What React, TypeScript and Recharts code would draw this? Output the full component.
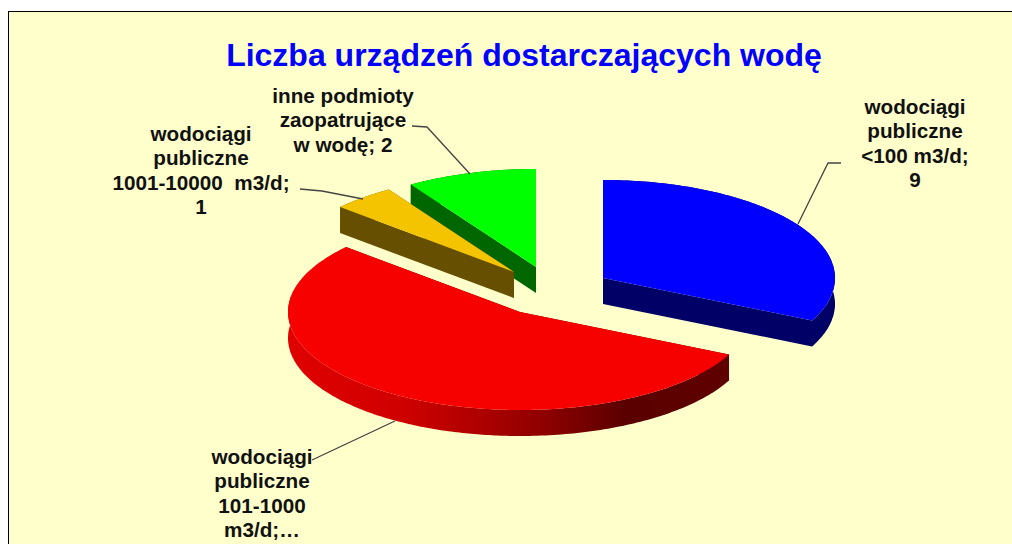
import { PieChart, Pie } from 'recharts'

const categories = [
  'wodociągi publiczne <100 m3/d',
  'wodociągi publiczne 101-1000 m3/d',
  'wodociągi publiczne 1001-10000 m3/d',
  'inne podmioty zaopatrujące w wodę',
]
const values = [9, 16, 1, 2]

const topColors = ['#0000FF', '#F70000', '#F5C400', '#00FF00']
const wallColors = ['#000066', '#600000', '#665000', '#006600']
const rimColors = ['#000066', 'url(#redRim)', '#665000', '#006600']

// exploded slices: how far each apex sits from the pie centre
const shifts = [
  [73, -7],
  [-10, 27],
  [-16, -13],
  [6, -18],
]

const labelLines = [
  ['wodociągi', 'publiczne', '<100 m3/d;', '9'],
  ['wodociągi', 'publiczne', '101-1000', 'm3/d;…'],
  ['wodociągi', 'publiczne', '1001-10000\u00a0 m3/d;', '1'],
  ['inne podmioty', 'zaopatrujące', 'w wodę; 2'],
]
const labelPos = [
  [915, 114],
  [262, 464],
  [201, 141],
  [343, 103],
]
const leaders = [
  '798,224 828,163 841,163',
  '395,421 312,460',
  '363,199 322,191 300,189',
  '470,174 427,127 412,126',
]

// drawn back to front: the orange tip lies over the green wall, so the table is reversed
const data = categories.map((name, i) => ({ name, value: values[i] })).reverse()
const sliceIndex = (i: number) => values.length - 1 - i

const SQUASH = 98 / 232
const DEPTH = 26

// the source's perspective opens up the upper left of the pie a bit
function warp(compass: number) {
  if (compass <= 180) return compass
  return compass + 16 * Math.sin((compass * Math.PI) / 180)
}

function Slice3D(props: any) {
  const { cx, cy, outerRadius, startAngle, endAngle } = props
  const index = sliceIndex(props.index)
  const [dx, dy] = shifts[index]
  const ax = cx + dx
  const ay = cy + dy

  const point = (compass: number, drop = 0) => {
    const rad = (warp(compass) * Math.PI) / 180
    const x = ax + outerRadius * Math.sin(rad)
    const y = ay - outerRadius * SQUASH * Math.cos(rad) + drop
    return `${x.toFixed(1)},${y.toFixed(1)}`
  }

  // the pie runs counter-clockwise from 90 to 450, read it back as clockwise from the top
  const from = 450 - endAngle
  const to = 450 - startAngle
  const arc: number[] = []
  for (let a = from; a < to; a += 1) arc.push(a)
  arc.push(to)

  const top = arc.map((a) => point(a))
  const low = arc.map((a) => point(a, DEPTH))
  const apex = `${ax},${ay}`
  const apexLow = `${ax},${ay + DEPTH}`

  return (
    <g>
      <polygon points={[apex, top[0], low[0], apexLow].join(' ')} fill={wallColors[index]} />
      <polygon points={[apex, top[top.length - 1], low[low.length - 1], apexLow].join(' ')} fill={wallColors[index]} />
      <polygon points={[...top, ...low.slice().reverse()].join(' ')} fill={rimColors[index]} />
      <polygon points={[apex, ...top].join(' ')} fill={topColors[index]} />
    </g>
  )
}

function renderLabel(props: any) {
  const i = sliceIndex(props.index)
  const [x, y] = labelPos[i]
  return (
    <g key={i}>
      <polyline points={leaders[i]} fill="none" stroke="#444" strokeWidth={1.3} />
      <text
        x={x}
        y={y}
        textAnchor="middle"
        fontFamily="Liberation Sans"
        fontWeight="bold"
        fontSize={20.7}
        fill="#111"
      >
        {labelLines[i].map((line, k) => (
          <tspan key={k} x={x} y={y + k * 24.4}>
            {line}
          </tspan>
        ))}
      </text>
    </g>
  )
}

export default function App() {
  return (
    <div
      style={{
        position: 'absolute',
        left: 0,
        top: 0,
        width: 1012,
        height: 544,
        overflow: 'hidden',
        background: '#fff',
      }}
    >
      <div
        style={{
          position: 'absolute',
          left: 8,
          top: 11,
          width: 1200,
          height: 800,
          background: '#FFFFCC',
          border: '1.5px solid #000',
        }}
      />
      <div style={{ position: 'absolute', left: 0, top: 0 }}>
        <PieChart width={1012} height={544} margin={{ top: 0, right: 0, bottom: 0, left: 0 }}>
          <defs>
            <linearGradient id="redRim" gradientUnits="userSpaceOnUse" x1={288} y1={0} x2={733} y2={0}>
              <stop offset="0%" stopColor="#E00000" />
              <stop offset="25%" stopColor="#D00000" />
              <stop offset="42%" stopColor="#B00000" />
              <stop offset="59%" stopColor="#8A0000" />
              <stop offset="76%" stopColor="#5A0000" />
              <stop offset="100%" stopColor="#600000" />
            </linearGradient>
          </defs>
          <text
            x={524}
            y={66}
            textAnchor="middle"
            fontFamily="Liberation Sans"
            fontWeight="bold"
            fontSize={32}
            fill="#0000FF"
          >
            Liczba urządzeń dostarczających wodę
          </text>
          <Pie
            data={data}
            dataKey="value"
            nameKey="name"
            cx={530}
            cy={285}
            outerRadius={232}
            startAngle={90}
            endAngle={450}
            stroke="none"
            shape={Slice3D}
            label={renderLabel}
            labelLine={false}
            isAnimationActive={false}
          />
        </PieChart>
      </div>
    </div>
  )
}
